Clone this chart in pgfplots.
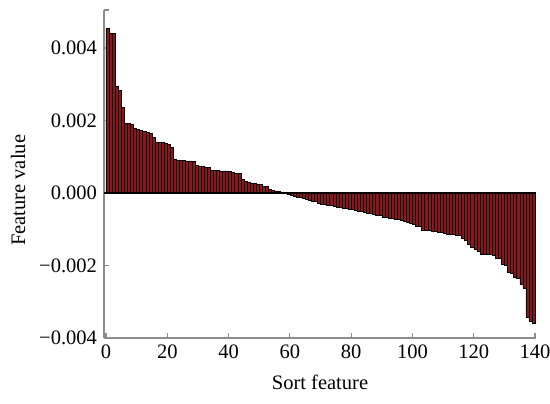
\documentclass[border=0pt]{standalone}
\usepackage{fontspec}
\setmainfont{Liberation Serif}
\usepackage{pgfplots}
\pgfplotsset{compat=1.18}
\usepackage{pgfplotstable}
\definecolor{barred}{HTML}{8E161B}
\definecolor{spine}{HTML}{8C8C8C}

\pgfplotstableread{
x y
0.5 0.00455
1.5 0.00441
2.5 0.00440
3.5 0.00295
4.5 0.00283
5.5 0.00237
6.5 0.00193
7.5 0.00192
8.5 0.00190
9.5 0.00179
10.5 0.00176
11.5 0.00172
12.5 0.00170
13.5 0.00168
14.5 0.00164
15.5 0.00154
16.5 0.00141
17.5 0.00140
18.5 0.00139
19.5 0.00136
20.5 0.00135
21.5 0.00126
22.5 0.00094
23.5 0.00091
24.5 0.00090
25.5 0.00090
26.5 0.00089
27.5 0.00089
28.5 0.00088
29.5 0.00076
30.5 0.00075
31.5 0.00074
32.5 0.00071
33.5 0.00070
34.5 0.00063
35.5 0.00062
36.5 0.00062
37.5 0.00061
38.5 0.00061
39.5 0.00061
40.5 0.00060
41.5 0.00056
42.5 0.00054
43.5 0.00054
44.5 0.00038
45.5 0.00033
46.5 0.00030
47.5 0.00027
48.5 0.00026
49.5 0.00025
50.5 0.00023
51.5 0.00019
52.5 0.00018
53.5 0.00011
54.5 0.00008
55.5 0.00006
56.5 0.00004
57.5 0.00003
58.5 0.00001
59.5 -0.00003
60.5 -0.00006
61.5 -0.00009
62.5 -0.00011
63.5 -0.00013
64.5 -0.00015
65.5 -0.00017
66.5 -0.00021
67.5 -0.00022
68.5 -0.00024
69.5 -0.00028
70.5 -0.00030
71.5 -0.00031
72.5 -0.00033
73.5 -0.00034
74.5 -0.00036
75.5 -0.00039
76.5 -0.00040
77.5 -0.00042
78.5 -0.00043
79.5 -0.00044
80.5 -0.00046
81.5 -0.00047
82.5 -0.00049
83.5 -0.00050
84.5 -0.00054
85.5 -0.00055
86.5 -0.00057
87.5 -0.00058
88.5 -0.00060
89.5 -0.00061
90.5 -0.00066
91.5 -0.00068
92.5 -0.00069
93.5 -0.00070
94.5 -0.00071
95.5 -0.00072
96.5 -0.00074
97.5 -0.00078
98.5 -0.00081
99.5 -0.00083
100.5 -0.00086
101.5 -0.00091
102.5 -0.00093
103.5 -0.00102
104.5 -0.00103
105.5 -0.00104
106.5 -0.00105
107.5 -0.00106
108.5 -0.00107
109.5 -0.00108
110.5 -0.00110
111.5 -0.00113
112.5 -0.00114
113.5 -0.00115
114.5 -0.00116
115.5 -0.00117
116.5 -0.00124
117.5 -0.00131
118.5 -0.00142
119.5 -0.00149
120.5 -0.00156
121.5 -0.00161
122.5 -0.00168
123.5 -0.00169
124.5 -0.00170
125.5 -0.00170
126.5 -0.00171
127.5 -0.00180
128.5 -0.00181
129.5 -0.00196
130.5 -0.00198
131.5 -0.00219
132.5 -0.00221
133.5 -0.00233
134.5 -0.00236
135.5 -0.00253
136.5 -0.00263
137.5 -0.00342
138.5 -0.00355
139.5 -0.00360
}\featdata

\begin{document}
\begin{tikzpicture}
\begin{axis}[
    scale only axis,
    width=216bp,
    height=164bp,
    xmin=-0.64, xmax=140.3,
    ymin=-0.004, ymax=0.00505,
    axis x line*=bottom,
    axis y line*=left,
    axis line style={draw=spine,line width=0.75bp},
    tick style={draw=spine,line width=0.6bp},
    tick align=inside,
    major tick length=2.5bp,
    xtick={0,20,40,60,80,100,120,140},
    ytick={-0.004,-0.002,0,0.002,0.004},
    yticklabels={−0.004,−0.002,0.000,0.002,0.004},
    extra y ticks={0.00505},
    extra y tick labels={},
    scaled ticks=false,
    tick label style={font=\fontsize{10.3}{12}\selectfont},
    /pgf/number format/assume math mode=true,
    xlabel={Sort feature},
    ylabel={Feature value},
    label style={font=\fontsize{10.3}{12}\selectfont},
    xlabel style={at={(axis description cs:0.5,-0.134)},anchor=center},
    ylabel style={at={(axis description cs:-0.199,0.45)},anchor=center,rotate=0},
    clip=false,
]
\addplot[ybar,bar width=1,fill=barred,draw=black,line width=0.25bp] table[x=x,y=y] {\featdata};
\draw[black,line width=0.6bp] (axis cs:-0.64,0) -- (axis cs:140.3,0);
\end{axis}
\pgfresetboundingbox
\useasboundingbox (-52bp,-33bp) rectangle (223bp,169bp);
\end{tikzpicture}
\end{document}
